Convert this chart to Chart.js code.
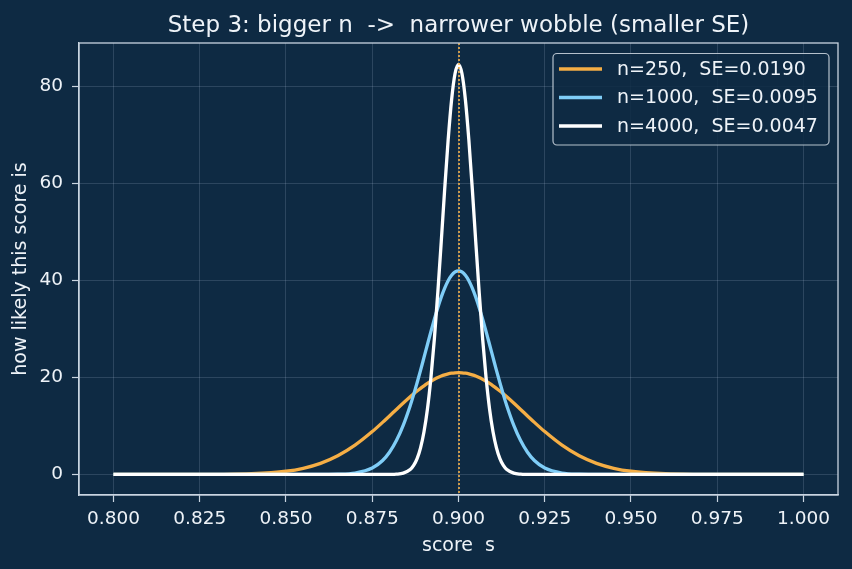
<!DOCTYPE html>
<html>
<head>
<meta charset="utf-8">
<script src="https://cdn.jsdelivr.net/npm/chart.js@4.4.1/dist/chart.umd.min.js"></script>
<style>
  html, body { margin: 0; padding: 0; background: #0e2a43; }
  canvas { display: block; }
</style>
</head>
<body>
<canvas id="chart" width="852" height="569"></canvas>
<script>
// score values along the x axis
const scores = [
  0.800, 0.820, 0.830, 0.840, 0.850, 0.855, 0.860, 0.865, 0.870, 0.875,
  0.878, 0.880, 0.882, 0.884, 0.886, 0.887, 0.888, 0.889, 0.890, 0.891,
  0.892, 0.893, 0.894, 0.895, 0.896, 0.897, 0.898, 0.899, 0.900,
  0.901, 0.902, 0.903, 0.904, 0.905, 0.906, 0.907, 0.908, 0.909, 0.910,
  0.911, 0.912, 0.913, 0.914, 0.916, 0.918, 0.920, 0.922, 0.925, 0.930,
  0.935, 0.940, 0.945, 0.950, 0.960, 0.970, 0.980, 1.000
];

// n=250
const density250 = [
  0, 0.00, 0.02, 0.14, 0.66, 1.27, 2.29, 3.85, 6.04, 8.84,
  10.74, 12.07, 13.41, 14.73, 16.01, 16.62, 17.20, 17.76, 18.28, 18.77,
  19.22, 19.62, 19.98, 20.29, 20.54, 20.74, 20.88, 20.97, 21.00,
  20.97, 20.88, 20.74, 20.54, 20.29, 19.98, 19.62, 19.22, 18.77, 18.28,
  17.76, 17.20, 16.62, 16.01, 14.73, 13.41, 12.07, 10.74, 8.84, 6.04,
  3.85, 2.29, 1.27, 0.66, 0.14, 0.02, 0.00, 0
];

// n=1000
const density1000 = [
  0, 0, 0, 0, 0, 0, 0.01, 0.05, 0.29, 1.32,
  2.88, 4.58, 6.98, 10.17, 14.18, 16.47, 18.91, 21.48, 24.14, 26.81,
  29.46, 32.01, 34.41, 36.57, 38.44, 39.96, 41.08, 41.77, 42.00,
  41.77, 41.08, 39.96, 38.44, 36.57, 34.41, 32.01, 29.46, 26.81, 24.14,
  21.48, 18.91, 16.47, 14.18, 10.17, 6.98, 4.58, 2.88, 1.32, 0.29,
  0.05, 0.01, 0, 0, 0, 0, 0, 0
];

// n=4000
const density4000 = [
  0, 0, 0, 0, 0, 0, 0, 0, 0, 0,
  0, 0.01, 0.06, 0.26, 1.00, 1.85, 3.26, 5.49, 8.8, 13.5,
  19.9, 27.9, 37.5, 48.0, 58.9, 69.0, 77.3, 82.7, 84.6,
  82.7, 77.3, 69.0, 58.9, 48.0, 37.5, 27.9, 19.9, 13.5, 8.8,
  5.49, 3.26, 1.85, 1.00, 0.26, 0.06, 0.01, 0, 0, 0,
  0, 0, 0, 0, 0, 0, 0, 0
];

const seriesLabels = ["n=250,  SE=0.0190", "n=1000,  SE=0.0095", "n=4000,  SE=0.0047"];
const seriesColors = ["#f5ae45", "#7fcdf7", "#ffffff"];
const trueScore = 0.9;
const yTicks = [0, 20, 40, 60, 80];

const BG = "#0e2a43";
const TEXT = "#eef3f8";
const SPINE = "#c9d5e1";
const FONT = "'DejaVu Sans', sans-serif";

const toPoints = (ys) => scores.map((s, i) => ({ x: s, y: ys[i] }));

const frame = {
  id: "frame",
  beforeDraw(chart) {
    const { ctx, width, height } = chart;
    ctx.save();
    ctx.fillStyle = BG;
    ctx.fillRect(0, 0, width, height);
    ctx.restore();
  },
  afterDatasetsDraw(chart) {
    const { ctx, chartArea: a, scales } = chart;
    // dotted marker at the true score
    const px = Math.round(scales.x.getPixelForValue(trueScore));
    ctx.save();
    ctx.strokeStyle = "#f7b24a";
    ctx.lineWidth = 1.6;
    ctx.setLineDash([2, 2]);
    ctx.beginPath();
    ctx.moveTo(px, a.top);
    ctx.lineTo(px, a.bottom);
    ctx.stroke();
    ctx.setLineDash([]);

    // spines
    ctx.strokeStyle = SPINE;
    ctx.lineWidth = 1.3;
    ctx.strokeRect(a.left, a.top, a.right - a.left, a.bottom - a.top);

    // legend
    const lx = 553, ly = 53.5, lw = 276, lh = 91.5;
    ctx.beginPath();
    ctx.roundRect(lx, ly, lw, lh, 4);
    ctx.fillStyle = "rgba(14,42,67,0.85)";
    ctx.fill();
    ctx.strokeStyle = "rgba(200,210,220,0.9)";
    ctx.lineWidth = 1.2;
    ctx.stroke();
    ctx.font = "19px " + FONT;
    ctx.textBaseline = "middle";
    ctx.textAlign = "left";
    seriesLabels.forEach((lab, i) => {
      const y = 69 + i * 28.5;
      ctx.strokeStyle = seriesColors[i];
      ctx.lineWidth = 3.3;
      ctx.beginPath();
      ctx.moveTo(559, y);
      ctx.lineTo(602, y);
      ctx.stroke();
      ctx.fillStyle = TEXT;
      ctx.fillText(lab, 617, y + 1);
    });

    // title
    ctx.font = "23px " + FONT;
    ctx.textAlign = "center";
    ctx.textBaseline = "alphabetic";
    ctx.fillText("Step 3: bigger n  ->  narrower wobble (smaller SE)", (a.left + a.right) / 2, 31.5);
    ctx.restore();
  }
};

new Chart(document.getElementById("chart"), {
  type: "line",
  data: {
    datasets: [
      { label: seriesLabels[0], data: toPoints(density250), borderColor: seriesColors[0], order: 3 },
      { label: seriesLabels[1], data: toPoints(density1000), borderColor: seriesColors[1], order: 2 },
      { label: seriesLabels[2], data: toPoints(density4000), borderColor: seriesColors[2], order: 1 }
    ]
  },
  options: {
    responsive: false,
    animation: false,
    layout: { padding: { left: 0, right: 14, top: 43, bottom: 0 } },
    elements: {
      point: { radius: 0 },
      line: { borderWidth: 3.3, cubicInterpolationMode: "monotone", fill: false }
    },
    plugins: {
      legend: { display: false },
      title: { display: false },
      tooltip: { enabled: false }
    },
    scales: {
      x: {
        type: "linear",
        min: 0.79,
        max: 1.01,
        afterFit: (scale) => { scale.height = 74; },
        ticks: {
          stepSize: 0.025,
          includeBounds: false,
          color: TEXT,
          font: { family: FONT, size: 18.5 },
          padding: 6,
          maxRotation: 0,
          autoSkip: false,
          callback: (v) => v.toFixed(3)
        },
        grid: {
          color: "rgba(190,210,230,0.22)",
          lineWidth: 0.8,
          tickColor: SPINE,
          tickLength: 7,
          tickWidth: 1.2
        },
        border: { color: SPINE, width: 1.3 },
        title: {
          display: true,
          text: "score  s",
          color: TEXT,
          font: { family: FONT, size: 19 },
          padding: { top: 0, bottom: 12 }
        }
      },
      y: {
        min: -4.24,
        max: 89,
        afterFit: (scale) => { scale.width = 79; },
        afterBuildTicks: (scale) => { scale.ticks = yTicks.map((v) => ({ value: v })); },
        ticks: {
          color: TEXT,
          font: { family: FONT, size: 18.5 },
          padding: 9
        },
        grid: {
          color: "rgba(190,210,230,0.22)",
          lineWidth: 0.8,
          tickColor: SPINE,
          tickLength: 7,
          tickWidth: 1.2
        },
        border: { color: SPINE, width: 1.3 },
        title: {
          display: true,
          text: "how likely this score is",
          color: TEXT,
          font: { family: FONT, size: 19 },
          padding: { top: 10, bottom: 0 }
        }
      }
    }
  },
  plugins: [frame]
});
</script>
</body>
</html>
